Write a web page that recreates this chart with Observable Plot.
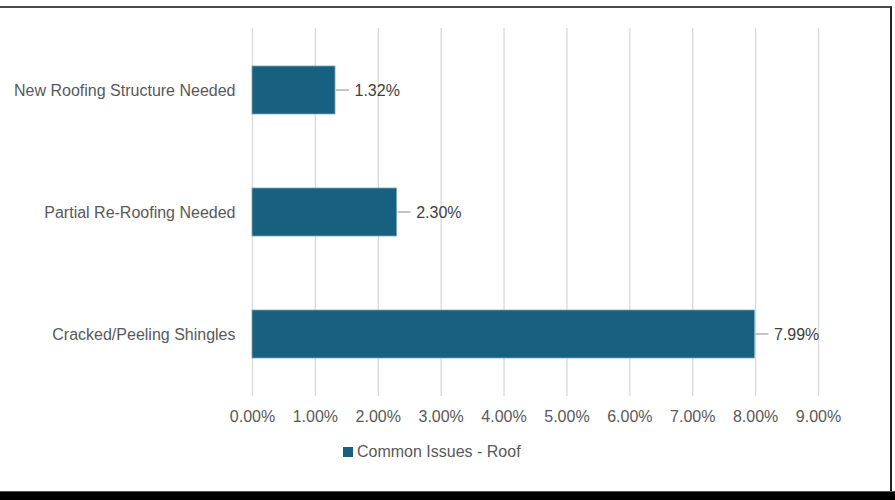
<!DOCTYPE html>
<html>
<head>
<meta charset="utf-8">
<script src="https://cdn.jsdelivr.net/npm/d3@7"></script>
<script src="https://cdn.jsdelivr.net/npm/@observablehq/plot@0.6"></script>
<style>
  html, body { margin: 0; padding: 0; background: #fff; }
  body { width: 895px; height: 500px; position: relative; overflow: hidden; font-family: "Liberation Sans", Arial, sans-serif; }
  #frame { position: absolute; left: 0; top: 6px; width: 892px; height: 485px; border-top: 2px solid #4a4a4a; border-right: 2px solid #222; box-sizing: border-box; }
  #bottom { position: absolute; left: 0; top: 491px; width: 895px; height: 9px; background: #000; border-top: 1px solid #555; box-sizing: border-box; }
  #chart { position: absolute; left: 0; top: 0; }
  #legend { position: absolute; left: 343px; top: 443px; font-size: 16px; color: #595959; display: flex; align-items: center; }
  #legend .sw { width: 10px; height: 10px; background: #17607f; margin-right: 4px; }
</style>
</head>
<body>
<div id="frame"></div>
<div id="bottom"></div>
<div id="chart"></div>
<div id="legend"><span class="sw"></span><span>Common Issues - Roof</span></div>
<script>
const categories = ["New Roofing Structure Needed", "Partial Re-Roofing Needed", "Cracked/Peeling Shingles"];
const values = [1.32, 2.30, 7.99];
const xTicks = [0, 1, 2, 3, 4, 5, 6, 7, 8, 9];
const seriesName = "Common Issues - Roof";

const data = categories.map((c, i) => ({category: c, value: values[i]}));
const fmt = d => d.toFixed(2) + "%";

const chart = Plot.plot({
  width: 889,
  height: 440,
  marginLeft: 252,
  marginRight: 71,
  marginTop: 28,
  marginBottom: 44,
  style: {fontFamily: "'Liberation Sans', Arial, sans-serif", fontSize: "16px", color: "#595959", background: "transparent"},
  x: {type: "linear", domain: [0, 9], label: null},
  y: {type: "band", domain: categories, padding: 0, label: null},
  marks: [
    Plot.gridX(xTicks, {stroke: "#d9d9d9", strokeOpacity: 1, strokeWidth: 1.3}),
    Plot.axisX(xTicks, {tickSize: 0, tickPadding: 14, tickFormat: fmt, label: null, fill: "#595959"}),
    Plot.axisY({tickSize: 0, tickPadding: 17, label: null, fill: "#595959"}),
    Plot.barX(data, {x: "value", y: "category", fill: "#17607f", stroke: "#7fa6ba", strokeWidth: 0.8, insetTop: 37, insetBottom: 37}),
    Plot.ruleY(data, {x1: "value", x2: "value", y: "category", render: (index, scales, values) => {
      const g = d3.create("svg:g");
      for (const i of index) {
        const x0 = scales.x(data[i].value);
        const yc = scales.y(data[i].category) + scales.y.bandwidth() / 2;
        g.append("line").attr("x1", x0 + 1).attr("x2", x0 + 14).attr("y1", yc).attr("y2", yc)
          .attr("stroke", "#a6a6a6").attr("stroke-width", 1.3);
      }
      return g.node();
    }}),
    Plot.text(data, {x: "value", y: "category", text: d => fmt(d.value), dx: 19, textAnchor: "start", fill: "#404040"})
  ]
});
document.getElementById("chart").appendChild(chart);
</script>
</body>
</html>
